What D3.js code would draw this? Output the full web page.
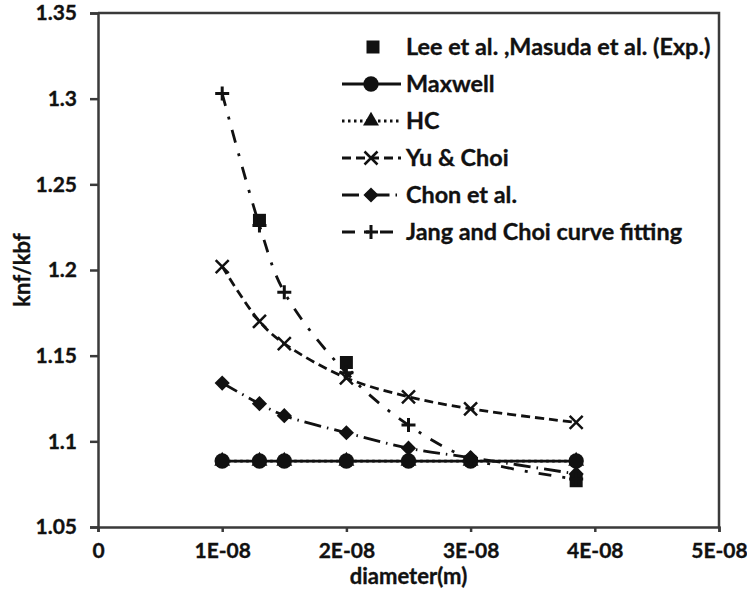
<!DOCTYPE html>
<html>
<head>
<meta charset="utf-8">
<script src="https://cdn.jsdelivr.net/npm/d3@7"></script>
<style>
  html, body { margin: 0; padding: 0; background: #fff; }
  svg text { font-family: Lato, "Open Sans", sans-serif; font-weight: 700; fill: #111; stroke: #111; stroke-width: 0.35px; }
</style>
</head>
<body>
<svg id="chart" width="747" height="601"></svg>
<script>
// Thermal conductivity ratio versus particle diameter
const diameters = [1e-8, 1.3e-8, 1.5e-8, 2e-8, 2.5e-8, 3e-8, 3.85e-8];
const expDiameters = [1.3e-8, 2e-8, 3.85e-8];
const expValues = [1.229, 1.146, 1.077];
const maxwellValues = [1.0885, 1.0885, 1.0885, 1.0885, 1.0885, 1.0885, 1.0885];
const hcValues = [1.0885, 1.0885, 1.0885, 1.0885, 1.0885, 1.0885, 1.0885];
const yuChoiValues = [1.202, 1.170, 1.157, 1.137, 1.126, 1.119, 1.111];
const chonValues = [1.134, 1.122, 1.115, 1.105, 1.096, 1.0905, 1.081];
const jangValues = [1.303, 1.226, 1.187, 1.140, 1.1095, 1.090, 1.078];

const xTicks = [0, 1e-8, 2e-8, 3e-8, 4e-8, 5e-8];
const xTickLabels = ["0", "1E-08", "2E-08", "3E-08", "4E-08", "5E-08"];
const yTicks = [1.05, 1.1, 1.15, 1.2, 1.25, 1.3, 1.35];
const yTickLabels = ["1.05", "1.1", "1.15", "1.2", "1.25", "1.3", "1.35"];

const legendLabels = [
  "Lee et al. ,Masuda et al. (Exp.)",
  "Maxwell",
  "HC",
  "Yu & Choi",
  "Chon et al.",
  "Jang and Choi curve fitting"
];

const W = 747, H = 601;
const margin = { top: 13, right: 28, bottom: 74, left: 98 };
const svg = d3.select("#chart");

const x = d3.scaleLinear().domain([0, 5e-8]).range([margin.left, W - margin.right]);
const y = d3.scaleLinear().domain([1.05, 1.35]).range([H - margin.bottom, margin.top]);

const axisColor = "#3a3a3a";

// frame (top and right edges)
svg.append("path")
  .attr("d", `M${x(0)},${y(1.35)}H${x(5e-8)}V${y(1.05)}`)
  .attr("fill", "none").attr("stroke", axisColor).attr("stroke-width", 2.5);

// axes
const yAxis = d3.axisLeft(y).tickValues(yTicks)
  .tickFormat((d, i) => yTickLabels[i]).tickSize(8).tickPadding(13);
const xAxis = d3.axisBottom(x).tickValues(xTicks)
  .tickFormat((d, i) => xTickLabels[i]).tickSize(5).tickPadding(11);

const gy = svg.append("g").attr("transform", `translate(${margin.left},0)`).call(yAxis);
const gx = svg.append("g").attr("transform", `translate(0,${H - margin.bottom})`).call(xAxis);
[gx, gy].forEach(g => {
  g.select(".domain").attr("stroke", axisColor).attr("stroke-width", 2.5);
  g.selectAll(".tick line").attr("stroke", axisColor).attr("stroke-width", 2.5);
  g.selectAll(".tick text").style("font-size", "21px").style("font-family", "Lato, sans-serif")
    .style("font-weight", 700);
});

// axis titles
svg.append("text")
  .attr("x", (x(0) + x(5e-8)) / 2).attr("y", 584)
  .attr("text-anchor", "middle").style("font-size", "22px")
  .text("diameter(m)");
svg.append("text")
  .attr("transform", `translate(30,${(y(1.05) + y(1.35)) / 2}) rotate(-90)`)
  .attr("text-anchor", "middle").style("font-size", "22px")
  .text("knf/kbf");

// marker shapes
const sym = {
  square: d3.symbol().type(d3.symbolSquare).size(169),
  circle: d3.symbol().type(d3.symbolCircle).size(185),
  triangle: d3.symbol().type(d3.symbolTriangle).size(110),
  diamond: d3.symbol().type(d3.symbolSquare).size(115),
};
function drawMarker(g, kind, cx, cy) {
  if (kind === "x") {
    const s = 6.5;
    g.append("path").attr("d", `M${cx - s},${cy - s}L${cx + s},${cy + s}M${cx - s},${cy + s}L${cx + s},${cy - s}`)
      .attr("stroke", "#111").attr("stroke-width", 2.5).attr("fill", "none");
  } else if (kind === "plus") {
    const s = 7;
    g.append("path").attr("d", `M${cx - s},${cy}L${cx + s},${cy}M${cx},${cy - s}L${cx},${cy + s}`)
      .attr("stroke", "#111").attr("stroke-width", 3).attr("fill", "none");
  } else if (kind === "diamond") {
    g.append("path").attr("d", sym.diamond()).attr("fill", "#111")
      .attr("transform", `translate(${cx},${cy}) rotate(45)`);
  } else {
    g.append("path").attr("d", sym[kind]()).attr("fill", "#111")
      .attr("transform", `translate(${cx},${cy})`);
  }
}

const seriesList = [
  { name: legendLabels[1], xs: diameters, ys: maxwellValues, marker: "circle", dash: null, curve: d3.curveLinear },
  { name: legendLabels[2], xs: diameters, ys: hcValues, marker: "triangle", dash: "2.5,3.5", curve: d3.curveLinear },
  { name: legendLabels[3], xs: diameters, ys: yuChoiValues, marker: "x", dash: "9,5", curve: d3.curveCatmullRom },
  { name: legendLabels[4], xs: diameters, ys: chonValues, marker: "diamond", dash: "17,6,1.5,6", curve: d3.curveCatmullRom },
  { name: legendLabels[5], xs: diameters, ys: jangValues, marker: "plus", dash: "13,11,3,11", curve: d3.curveCatmullRom },
];

const plot = svg.append("g");

// lines
seriesList.forEach(s => {
  const line = d3.line().x((d, i) => x(s.xs[i])).y(d => y(d)).curve(s.curve);
  plot.append("path").datum(s.ys)
    .attr("d", line).attr("fill", "none").attr("stroke", "#111")
    .attr("stroke-width", 2.8)
    .attr("stroke-dasharray", s.dash);
});

// experimental points
const expG = plot.append("g");
expValues.forEach((v, i) => drawMarker(expG, "square", x(expDiameters[i]), y(v)));

// model markers (HC first so Maxwell circles sit above it)
[seriesList[1], seriesList[0], seriesList[2], seriesList[3], seriesList[4]].forEach(s => {
  const g = plot.append("g");
  s.ys.forEach((v, i) => drawMarker(g, s.marker, x(s.xs[i]), y(v)));
});

// legend
const legend = svg.append("g");
const rowY = d3.range(6).map(i => 47 + i * 37);
const lx0 = 342, lx1 = 401, lmid = 371, textX = 406;

legend.append("g").call(g => drawMarker(g, "square", 373, rowY[0]));
legend.append("text").attr("x", textX).attr("y", rowY[0]).attr("dy", "0.36em")
  .style("font-size", "23.4px").text(legendLabels[0]);

seriesList.forEach((s, i) => {
  const ry = rowY[i + 1];
  legend.append("line").attr("x1", lx0).attr("x2", lx1).attr("y1", ry).attr("y2", ry)
    .attr("stroke", "#111").attr("stroke-width", 2.8).attr("stroke-dasharray", s.dash);
  drawMarker(legend, s.marker, lmid, ry);
  legend.append("text").attr("x", textX).attr("y", ry).attr("dy", "0.36em")
    .style("font-size", "23.4px").text(s.name);
});
</script>
</body>
</html>
